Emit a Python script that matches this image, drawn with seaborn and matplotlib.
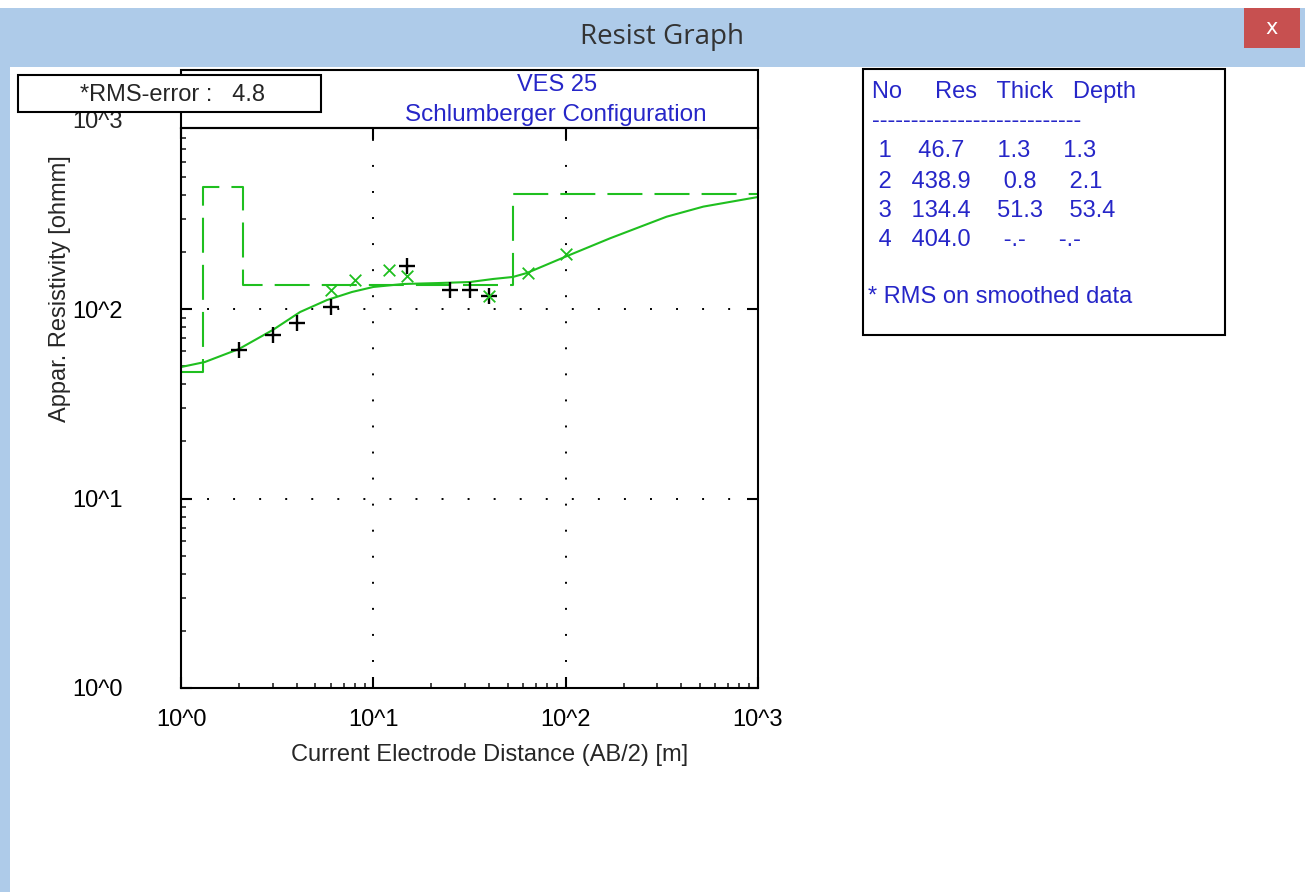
import numpy as np
import seaborn as sns
import matplotlib.pyplot as plt
import matplotlib.transforms as mtransforms
from matplotlib.patches import Rectangle
from matplotlib.ticker import LogLocator, NullFormatter

# field data: AB/2 [m] and apparent resistivity [ohmm]
ab2_field = [2, 3, 4, 6, 15, 25, 32, 40]
rho_field = [60.8, 72.9, 84.4, 102.5, 168.6, 126, 126, 117]

# smoothed data
ab2_smooth = [6, 8, 12, 15, 40, 64, 100]
rho_smooth = [126, 142, 160.7, 149.4, 117, 155, 195]

# model response curve
ab2_curve = [1.0, 1.33, 2.0, 3.0, 4.16, 5.74, 7.75, 10, 14.3, 21.4, 31.8,
             41.9, 53.2, 63, 100, 170, 335, 520, 1000]
rho_curve = [49.4, 52.5, 61.5, 77.5, 96.4, 111.5, 123, 130.7, 135.5, 137,
             138.8, 144, 147.6, 155, 189, 236, 307, 347, 390]

# layered model
layer_no = [1, 2, 3, 4]
layer_res = [46.7, 438.9, 134.4, 404.0]
layer_thick = ["1.3", "0.8", "51.3", "-.-"]
layer_depth = ["1.3", "2.1", "53.4", "-.-"]
rms_error = 4.8

W, H = 1305, 892
GREEN = "#1fbf1f"
BLUE = "#2626c8"
FS = 17

sns.set_style("white")
plt.rcParams["font.family"] = ["Liberation Sans", "DejaVu Sans"]

fig = plt.figure(figsize=(W / 100, H / 100), dpi=100, facecolor="#aecbe9")


def fx(x):
    return x / W


def fy(y):
    return 1 - y / H


def box(x0, y0, x1, y1, **kw):
    r = Rectangle((fx(x0), fy(y1)), (x1 - x0) / W, (y1 - y0) / H,
                  transform=fig.transFigure, **kw)
    fig.patches.append(r)
    return r


# window frame
box(0, 0, W, 8, facecolor="white", edgecolor="none", zorder=-2)
box(10, 67, W, H, facecolor="white", edgecolor="none", zorder=-2)
box(1244, 8, 1300, 48, facecolor="#c75050", edgecolor="none", zorder=-1)
fig.text(fx(1272), fy(28), "x", ha="center", va="center", color="white",
         fontsize=15, family="DejaVu Sans")
fig.text(fx(662), fy(37), "Resist Graph", ha="center", va="center",
         color="#333333", fontsize=20, family="Open Sans")

ax = fig.add_axes([fx(181), fy(688), 577 / W, 560 / H])
ax.set_facecolor("white")
ax.set_xscale("log")
ax.set_yscale("log")

# model as steps
step_x = [1] + [1.3, 2.1, 53.4] + [1000]
step_y = layer_res + [layer_res[-1]]
sns.lineplot(x=step_x, y=step_y, ax=ax, color=GREEN, linewidth=1.5,
             drawstyle="steps-post", linestyle=(0, (16.8, 5.8)),
             sort=False, estimator=None)

# model response
sns.lineplot(x=ab2_curve, y=rho_curve, ax=ax, color=GREEN, linewidth=1.5,
             sort=False, estimator=None)

sns.scatterplot(x=ab2_field, y=rho_field, ax=ax, marker="+", s=130,
                color="black", linewidth=1.7, zorder=4)
sns.scatterplot(x=ab2_smooth, y=rho_smooth, ax=ax, marker="x", s=70,
                color=GREEN, linewidth=1.3, zorder=5)

ax.set_xlim(1, 1000)
ax.set_ylim(1, 10 ** ((688 - 128) / 189.5))

ax.set_xticks([1, 10, 100, 1000], labels=["10^0", "10^1", "10^2", "10^3"])
ax.set_yticks([1, 10, 100], labels=["10^0", "10^1", "10^2"])
ax.xaxis.set_minor_locator(LogLocator(base=10, subs=np.arange(2, 10)))
ax.yaxis.set_minor_locator(LogLocator(base=10, subs=np.arange(2, 10)))
ax.xaxis.set_minor_formatter(NullFormatter())
ax.yaxis.set_minor_formatter(NullFormatter())

ax.tick_params(which="major", direction="in", length=8, width=1.5,
               bottom=True, left=True, top=True, right=True,
               labelsize=FS, colors="black")
ax.tick_params(which="minor", direction="in", length=3.5, width=1.2,
               bottom=True, left=True, top=False, right=False)
ax.tick_params(axis="x", pad=15)
ax.tick_params(axis="y", pad=42)

ax.text(-58 / 577, 1000, "10^3", fontsize=FS, ha="right",
        va="center_baseline",
        transform=mtransforms.blended_transform_factory(ax.transAxes, ax.transData),
        clip_on=False)

ax.grid(True, which="major", color="black", linestyle=(0, (1, 12.4)),
        linewidth=1.4)
for sp in ax.spines.values():
    sp.set_linewidth(1.5)
    sp.set_color("black")

ax.set_xlabel("Current Electrode Distance (AB/2) [m]", fontsize=FS)
ax.xaxis.set_label_coords(0.534, -0.1)
ax.set_ylabel("Appar. Resistivity [ohmm]", fontsize=FS)
ax.yaxis.set_label_coords(-0.191, 0.7125)

# title box over the plot
box(181, 70, 758, 128, facecolor="none", edgecolor="black", linewidth=1.5,
    zorder=2)
fig.text(fx(557), fy(85), "VES 25", ha="center", va="center", color=BLUE,
         fontsize=FS)
fig.text(fx(556), fy(115), "Schlumberger Configuration", ha="center",
         va="center", color=BLUE, fontsize=17.5)

# RMS box
box(18, 75, 321, 112, facecolor="white", edgecolor="black", linewidth=1.5,
    zorder=5)
fig.text(fx(172), fy(95), f"*RMS-error :   {rms_error:.1f}", ha="center",
         va="center", fontsize=FS, zorder=6)

# layer table
box(863, 69, 1225, 335, facecolor="white", edgecolor="black", linewidth=1.5,
    zorder=2)
lines = ["No     Res   Thick   Depth", "-" * 27]
for no, res, th, dp in zip(layer_no, layer_res, layer_thick, layer_depth):
    lines.append(f" {no}  {res:6.1f}  {th:>6}  {dp:>6}")
line_y = [92, 121, 151, 182, 211, 240]
for txt, yy in zip(lines, line_y):
    fig.text(fx(872), fy(yy), txt, ha="left", va="center", color=BLUE,
             fontsize=FS, zorder=3)
fig.text(fx(868), fy(297), "* RMS on smoothed data", ha="left", va="center",
         color=BLUE, fontsize=FS, zorder=3)

fig.savefig("out.png", dpi=100, facecolor=fig.get_facecolor())
